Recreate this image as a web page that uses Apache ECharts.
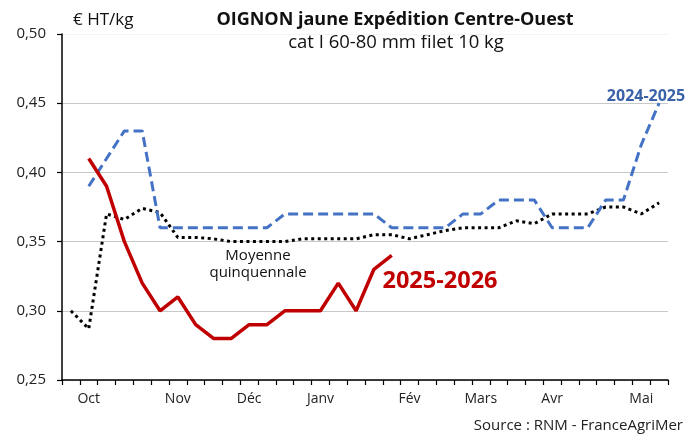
<!DOCTYPE html>
<html><head><meta charset="utf-8">
<script src="https://cdn.jsdelivr.net/npm/echarts@6/dist/echarts.min.js"></script>
<style>html,body{margin:0;padding:0;background:#fff}#c{width:686px;height:436px}</style>
</head><body><div id="c"></div>
<script>
// Weeks 39 (2025) .. 20 (2026)
const weeks = ['S39','S40','S41','S42','S43','S44','S45','S46','S47','S48','S49','S50','S51','S52','S01','S02','S03','S04','S05','S06','S07','S08','S09','S10','S11','S12','S13','S14','S15','S16','S17','S18','S19','S20'];
const monthLabels = {1:'Oct',6:'Nov',10:'Déc',14:'Janv',19:'Fév',23:'Mars',27:'Avr',32:'Mai'};
const yTicks = [0.25,0.30,0.35,0.40,0.45,0.50];

const moyenne = [0.300,0.287,0.370,0.366,0.374,0.371,0.353,0.353,0.352,0.350,0.350,0.350,0.350,0.352,0.352,0.352,0.352,0.355,0.355,0.352,0.355,0.358,0.360,0.360,0.360,0.365,0.363,0.370,0.370,0.370,0.375,0.375,0.370,0.378];
const s2024 = [null,0.39,0.41,0.43,0.43,0.36,0.36,0.36,0.36,0.36,0.36,0.36,0.37,0.37,0.37,0.37,0.37,0.37,0.36,0.36,0.36,0.36,0.37,0.37,0.38,0.38,0.38,0.36,0.36,0.36,0.38,0.38,0.42,0.45];
const s2025 = [null,0.41,0.39,0.35,0.32,0.30,0.31,0.29,0.28,0.28,0.29,0.29,0.30,0.30,0.30,0.32,0.30,0.33,0.34,null,null,null,null,null,null,null,null,null,null,null,null,null,null,null];

const FONT = 'Open Sans';
const chart = echarts.init(document.getElementById('c'), null, {renderer:'canvas'});
chart.setOption({
  animation:false,
  backgroundColor:'#fff',
  textStyle:{fontFamily:FONT},
  grid:{left:62,right:18,top:34,bottom:56,containLabel:false},
  xAxis:{
    type:'category', data:weeks, boundaryGap:true,
    axisLine:{lineStyle:{color:'#000',width:1.5}},
    axisTick:{show:true,interval:0,length:5,lineStyle:{color:'#000',width:1.2}},
    axisLabel:{interval:0,margin:12,color:'#222',fontSize:14,fontFamily:FONT,
      formatter:(v,i)=>monthLabels[i]||''},
    splitLine:{show:false}
  },
  yAxis:{
    type:'value', min:yTicks[0], max:yTicks[yTicks.length-1], interval:0.05,
    axisLine:{show:true,lineStyle:{color:'#000',width:1.5}},
    axisTick:{show:true,length:5,lineStyle:{color:'#000',width:1.2}},
    axisLabel:{color:'#222',fontSize:15,margin:16,fontFamily:FONT,
      formatter:v=>v.toFixed(2).replace('.',',')},
    splitLine:{show:true,lineStyle:{color:['#c8c8c8','#c8c8c8','#c8c8c8','#c8c8c8','#c8c8c8','#f4f4f4'],width:1.2}}
  },
  series:[
    {name:'Moyenne quinquennale',type:'line',data:moyenne,symbol:'none',
      lineStyle:{color:'#000',width:3,type:[3,3.5],cap:'butt'},z:3},
    {name:'2024-2025',type:'line',data:s2024,symbol:'none',
      lineStyle:{color:'#4472C4',width:3,type:[10,5],cap:'butt'},z:4},
    {name:'2025-2026',type:'line',data:s2025,symbol:'none',
      lineStyle:{color:'#C00000',width:3.5},z:5}
  ],
  graphic:[
    {type:'text',x:73,y:20,style:{text:'€ HT/kg',fontSize:17,fill:'#111',fontFamily:FONT,textVerticalAlign:'middle'}},
    {type:'text',x:395,y:20,style:{text:'OIGNON jaune Expédition Centre-Ouest',fontSize:18,fontWeight:'bold',fill:'#111',fontFamily:FONT,textAlign:'center',textVerticalAlign:'middle'}},
    {type:'text',x:396,y:43,style:{text:'cat I 60-80 mm filet 10 kg',fontSize:18.5,fill:'#111',fontFamily:FONT,textAlign:'center',textVerticalAlign:'middle'}},
    {type:'text',x:646,y:96,style:{text:'2024-2025',fontSize:16,fontWeight:'bold',fill:'#3A62A8',fontFamily:FONT,textAlign:'center',textVerticalAlign:'middle'}},
    {type:'text',x:258,y:256,style:{text:'Moyenne',fontSize:15,fill:'#111',fontFamily:FONT,textAlign:'center',textVerticalAlign:'middle'}},
    {type:'text',x:258,y:273,style:{text:'quinquennale',fontSize:15,fill:'#111',fontFamily:FONT,textAlign:'center',textVerticalAlign:'middle'}},
    {type:'text',x:440,y:281,style:{text:'2025-2026',fontSize:23.5,fontWeight:'bold',fill:'#C00000',fontFamily:FONT,textAlign:'center',textVerticalAlign:'middle'}},
    {type:'text',x:683,y:426,style:{text:'Source : RNM - FranceAgriMer',fontSize:15,fill:'#222',fontFamily:FONT,textAlign:'right',textVerticalAlign:'middle'}}
  ]
});
</script></body></html>
